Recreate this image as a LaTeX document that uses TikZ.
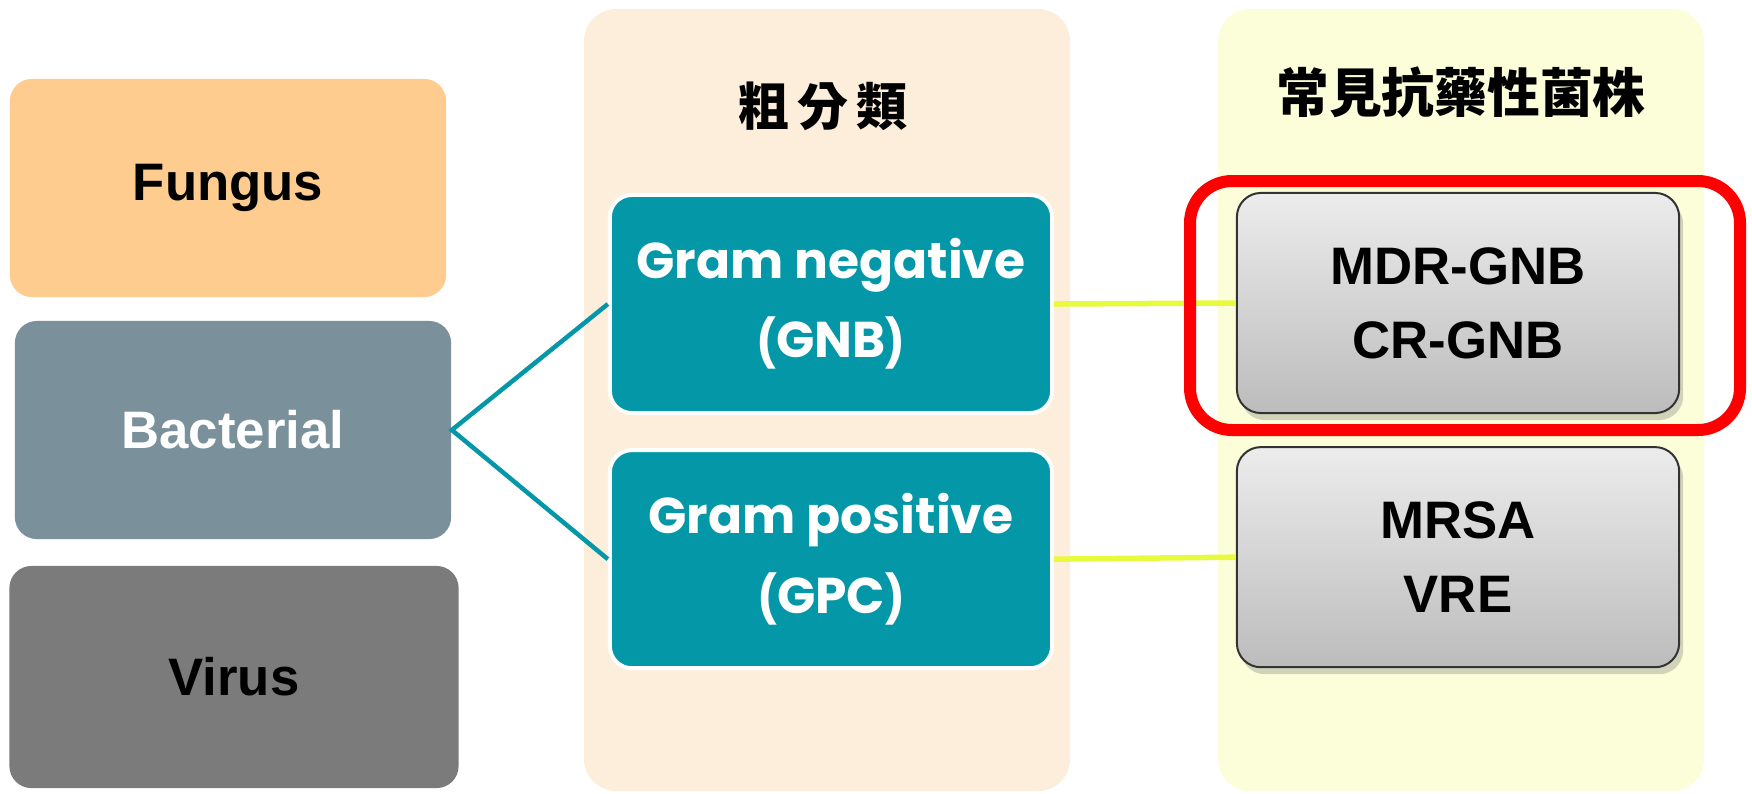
\documentclass[tikz,border=0pt]{standalone}
\usepackage{fontspec}
\setmainfont{Liberation Sans}
\newfontfamily\cjkfont{Noto Sans CJK TC}
\newfontfamily\widefont{Poppins}
\usetikzlibrary{positioning,shadows}

\definecolor{fungusorange}{RGB}{254,204,142}
\definecolor{bactgray}{RGB}{122,144,154}
\definecolor{virusgray}{RGB}{123,123,123}
\definecolor{panelpeach}{RGB}{253,238,219}
\definecolor{panelyellow}{RGB}{252,254,218}
\definecolor{gramteal}{RGB}{4,151,168}
\definecolor{linkyellow}{RGB}{232,250,60}
\definecolor{stripetop}{RGB}{236,236,236}
\definecolor{stripebottom}{RGB}{188,188,188}

\newcommand*{\paren}[1]{{\rmfamily\fontsize{16}{22.5}\selectfont(}#1{\rmfamily\fontsize{16}{22.5}\selectfont)}}

\begin{document}
\begin{tikzpicture}[x=0.01cm, y=-0.01cm]
    \tikzstyle{kingdom}=[rounded corners=0.22cm, minimum width=4.36cm, minimum height=2.18cm, inner sep=0pt, font=\fontsize{15}{18}\selectfont\bfseries];
    \tikzstyle{panel}=[rounded corners=0.32cm];
    \tikzstyle{gram box}=[rounded corners=0.22cm, fill=gramteal, draw=white, line width=0.04cm, text=white, minimum width=4.42cm, minimum height=2.18cm, inner sep=0pt, align=center, font=\widefont\fontsize{14.3}{22.5}\selectfont\bfseries];
    \tikzstyle{strain box}=[rounded corners=0.24cm, draw=black!80, line width=0.02cm, top color=stripetop, bottom color=stripebottom, drop shadow={shadow xshift=0.04cm, shadow yshift=-0.07cm, opacity=0.35}, minimum width=4.42cm, minimum height=2.2cm, inner sep=0pt, align=center, font=\fontsize{15}{21}\selectfont\bfseries];

    \useasboundingbox (0,0) rectangle (1752,793);

    \fill[panelpeach, panel] (584,9) rectangle (1070,791);
    \fill[panelyellow, panel] (1218,9) rectangle (1704,791);
    \node[font=\cjkfont\fontsize{14.5}{16}\selectfont\bfseries] (coarse title) at (823,106) {粗\,分\,類};
    \node[font=\cjkfont\fontsize{15}{16}\selectfont\bfseries] (strain title) at (1461,92) {常見抗藥性菌株};

    \node[kingdom, fill=fungusorange] (fungus) at (228,188) {Fungus};
    \node[kingdom, fill=bactgray, text=white] (bacterial) at (233,430) {Bacterial};
    \node[kingdom, fill=virusgray, minimum width=4.49cm, minimum height=2.22cm] (virus) at (234,677) {Virus};

    \node[gram box] (gnb) at (831,304) {Gram negative\\\paren{GNB}};
    \node[gram box, below=0.33cm of gnb] (gpc) {Gram positive\\\paren{GPC}};

    \node[strain box] (mdr) at (1458,303) {MDR-GNB\\CR-GNB};
    \node[strain box, below=0.32cm of mdr] (mrsa) {MRSA\\VRE};

    \draw[gramteal, line width=0.045cm] (gnb.west) -- (bacterial.east) -- (gpc.west);
    \foreach \from/\to in {gnb/mdr, gpc/mrsa} {
      \draw[linkyellow, line width=0.055cm] (\from.east) -- (\to.west);
    }

    \draw[red, line width=0.12cm, rounded corners=0.42cm] (1190,181) rectangle (1740,430);
\end{tikzpicture}
\end{document}
